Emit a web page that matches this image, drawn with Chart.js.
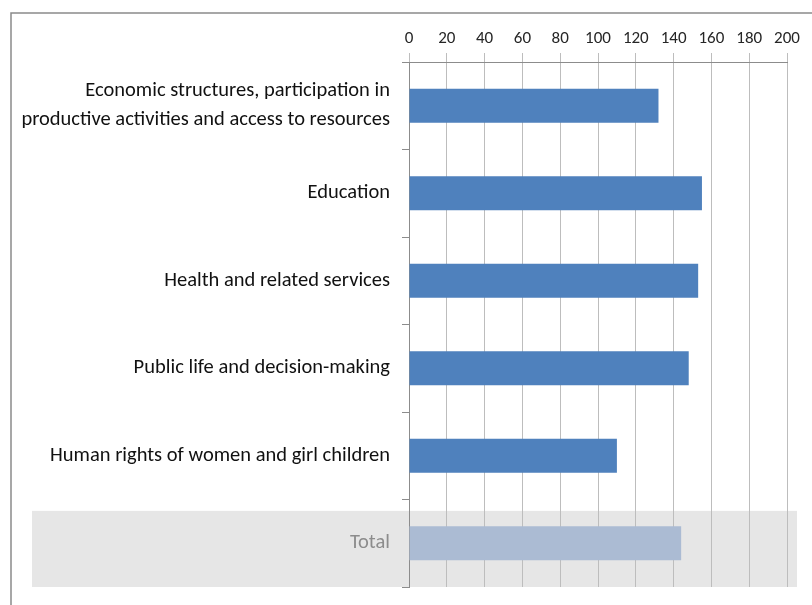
<!DOCTYPE html>
<html>
<head>
<meta charset="utf-8">
<script src="https://cdn.jsdelivr.net/npm/chart.js@4/dist/chart.umd.min.js"></script>
<style>
    html, body { margin: 0; padding: 0; background: #fff; }
    #wrap { position: relative; width: 812px; height: 605px; }
</style>
</head>
<body>
<div id="wrap"><canvas id="chart"></canvas></div>
<script>
const categories = [
    ['Economic structures, participation in', 'productive activities and access to resources'],
    'Education',
    'Health and related services',
    'Public life and decision-making',
    'Human rights of women and girl children',
    'Total',
];
const values = [132, 155, 153, 148, 110, 144];
const xMin = 0;
const xMax = 200;
const xStep = 20;

const FONT = "Carlito, 'Open Sans', sans-serif";
const totalIndex = categories.length - 1;

const frameAndBand = {
    id: 'frameAndBand',
    beforeDraw(chart) {
        const { ctx, chartArea, scales } = chart;
        const y = scales.y;
        const slot = (chartArea.bottom - chartArea.top) / categories.length;
        const top = y.getPixelForValue(totalIndex) - slot * 0.37;
        ctx.save();
        ctx.fillStyle = '#e6e6e6';
        ctx.fillRect(32, top, chartArea.right + 10 - 32, chartArea.bottom - top);
        ctx.restore();
    },
    afterDraw(chart) {
        const { ctx, width, height } = chart;
        ctx.save();
        ctx.strokeStyle = '#8a8a8a';
        ctx.lineWidth = 1.5;
        ctx.beginPath();
        ctx.moveTo(11, height);
        ctx.lineTo(11, 13);
        ctx.lineTo(width, 13);
        ctx.stroke();
        ctx.restore();
    },
};

new Chart(document.getElementById('chart'), {
    type: 'bar',
    data: {
        labels: categories,
        datasets: [{
            data: values,
            backgroundColor: values.map((v, i) => (i === totalIndex ? '#abbbd3' : '#4f81bd')),
            borderWidth: 0,
            barPercentage: 0.39,
            categoryPercentage: 1,
        }],
    },
    options: {
        indexAxis: 'y',
        responsive: true,
        maintainAspectRatio: false,
        animation: false,
        layout: {
            padding: { top: 0, right: 25, bottom: 18, left: 0 },
        },
        plugins: {
            legend: { display: false },
            tooltip: { enabled: false },
        },
        scales: {
            x: {
                position: 'top',
                min: xMin,
                max: xMax,
                afterFit(scale) {
                    scale.height = 62;
                },
                ticks: {
                    stepSize: xStep,
                    color: '#262626',
                    padding: 4,
                    font: { family: FONT, size: 17 },
                },
                grid: {
                    color: '#bdbdbd',
                    lineWidth: 1,
                    tickLength: 9,
                },
                border: {
                    color: '#8c8c8c',
                    width: 1,
                },
            },
            y: {
                afterFit(scale) {
                    scale.width = 409;
                    scale.paddingTop = 0;
                    scale.paddingBottom = 0;
                },
                ticks: {
                    color: (ctx) => (ctx.index === totalIndex ? '#8c8c8c' : '#111111'),
                    padding: 12,
                    font: { family: FONT, size: 20.5, lineHeight: 1.41 },
                },
                grid: {
                    display: true,
                    drawOnChartArea: false,
                    offset: true,
                    color: '#8c8c8c',
                    tickLength: 7,
                },
                border: {
                    color: '#8c8c8c',
                    width: 1,
                },
            },
        },
    },
    plugins: [frameAndBand],
});
</script>
</body>
</html>
